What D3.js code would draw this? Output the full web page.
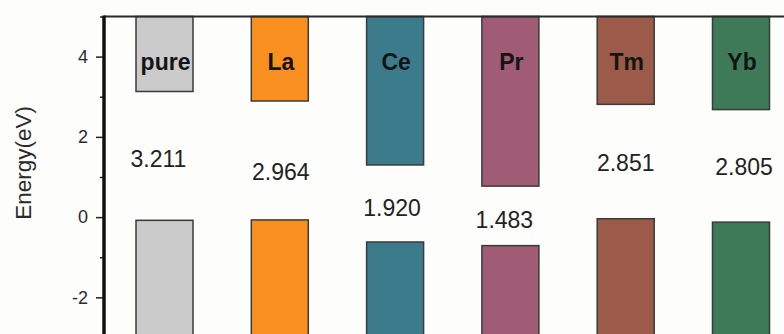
<!DOCTYPE html>
<html>
<head>
<meta charset="utf-8">
<script src="https://cdn.jsdelivr.net/npm/d3@7"></script>
<style>
  html, body { margin: 0; padding: 0; background: #fdfdfc; }
  svg { display: block; font-family: "Liberation Sans", Arial, sans-serif; }
</style>
</head>
<body>
<svg id="chart" width="784" height="334"></svg>
<script>
// Dopant labels, valence-band top (eV) and band gap (eV) for each sample
const samples = ["pure", "La", "Ce", "Pr", "Tm", "Yb"];
const valenceTop = [-0.08, -0.07, -0.62, -0.71, -0.04, -0.125];
const bandGap = [3.211, 2.964, 1.920, 1.483, 2.851, 2.805];
const bandTop = 5;      // conduction bands drawn up to the plot top
const bandBottom = -3;  // valence bands drawn down past the plot bottom
const yTicks = [-2, 0, 2, 4];
const yMinorTicks = [-3, -1, 1, 3, 5];
const fills = ["#cbcbcb", "#f98f1e", "#3b7b8b", "#a05c74", "#9b5b48", "#3f7a58"];

// Conduction-band minimum = valence-band top + gap
const conductionBottom = valenceTop.map((v, i) => v + bandGap[i]);

const svg = d3.select("#chart");
const plotLeft = 104, plotTop = 16.5;

const x = d3.scalePoint().domain(samples).range([164.5, 741]);
const y = d3.scaleLinear().domain([-3, 5]).range([337.5, plotTop]);
const barW = 57;

// Conduction bands
svg.append("g").selectAll("rect")
  .data(samples)
  .join("rect")
  .attr("x", d => x(d) - barW / 2)
  .attr("y", y(bandTop))
  .attr("width", barW)
  .attr("height", (d, i) => y(conductionBottom[i]) - y(bandTop))
  .attr("fill", (d, i) => fills[i])
  .attr("stroke", "#3a3a3a")
  .attr("stroke-width", 1.5);

// Valence bands
svg.append("g").selectAll("rect")
  .data(samples)
  .join("rect")
  .attr("x", d => x(d) - barW / 2)
  .attr("y", (d, i) => y(valenceTop[i]))
  .attr("width", barW)
  .attr("height", (d, i) => y(bandBottom) - y(valenceTop[i]))
  .attr("fill", (d, i) => fills[i])
  .attr("stroke", "#3a3a3a")
  .attr("stroke-width", 1.5);

// Sample names inside the conduction bands
svg.append("g").selectAll("text")
  .data(samples)
  .join("text")
  .attr("x", d => x(d) + 1)
  .attr("y", y(4) + 13.5)
  .attr("text-anchor", "middle")
  .attr("font-size", 23)
  .attr("font-weight", "bold")
  .attr("fill", "#141414")
  .text(d => d);

// Band-gap values, placed inside the gap
const nudgeX = [-6, 1, -3, -6, 0, 3];
const nudgeY = [2.5, 11, 4, 4, 1.5, 0.5];
svg.append("g").selectAll("text")
  .data(samples)
  .join("text")
  .attr("x", (d, i) => x(d) + nudgeX[i])
  .attr("y", (d, i) => y((valenceTop[i] + conductionBottom[i]) / 2) + nudgeY[i])
  .attr("dy", "0.36em")
  .attr("text-anchor", "middle")
  .attr("font-size", 23)
  .attr("fill", "#222")
  .text((d, i) => bandGap[i].toFixed(3));

// Frame: top border line
svg.append("line")
  .attr("x1", plotLeft).attr("x2", 784)
  .attr("y1", plotTop).attr("y2", plotTop)
  .attr("stroke", "#2a2a2a")
  .attr("stroke-width", 2);

// Minor ticks
svg.append("g")
  .attr("transform", `translate(${plotLeft},0)`)
  .call(d3.axisLeft(y).tickValues(yMinorTicks).tickSize(4).tickFormat(""))
  .call(g => g.select(".domain").remove())
  .call(g => g.selectAll("line").attr("stroke", "#222").attr("stroke-width", 1.5));

// Major ticks and labels (plain hyphen for negatives)
const yAxis = svg.append("g")
  .attr("transform", `translate(${plotLeft},0)`)
  .call(d3.axisLeft(y).tickValues(yTicks).tickSize(8).tickPadding(8).tickFormat(d => String(d)));
yAxis.select(".domain").remove();
yAxis.selectAll("line").attr("stroke", "#222").attr("stroke-width", 1.5);
yAxis.selectAll("text")
  .attr("font-size", 18)
  .attr("font-family", "'Liberation Sans', Arial, sans-serif")
  .attr("fill", "#2a2a2a");

// Left axis line
svg.append("line")
  .attr("x1", plotLeft).attr("x2", plotLeft)
  .attr("y1", plotTop - 1).attr("y2", 334)
  .attr("stroke", "#111")
  .attr("stroke-width", 3.5);

// Axis title
svg.append("text")
  .attr("transform", `translate(31,${y(1.35)}) rotate(-90)`)
  .attr("text-anchor", "middle")
  .attr("font-size", 22.5)
  .attr("fill", "#2a2a2a")
  .text("Energy(eV)");
</script>
</body>
</html>
